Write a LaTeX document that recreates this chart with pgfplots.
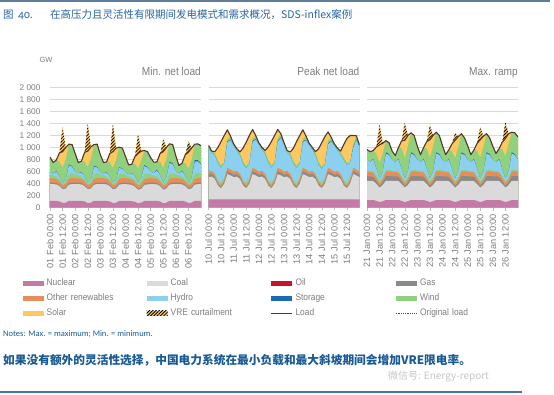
\documentclass[border=0pt]{standalone}
\usepackage{fontspec}
\setmainfont{Liberation Sans}
\newfontfamily\cjk{Noto Sans CJK SC}
\newfontfamily\carlito{Carlito}
\newfontfamily\carlitoOS{Carlito}[Numbers=OldStyle]
\newfontfamily\narrowf{Liberation Sans}[FakeStretch=0.88]
\usepackage{pgfplots}
\usepackage{pgfplotstable}
\pgfplotsset{compat=1.18}
\usetikzlibrary{patterns.meta}

\definecolor{cNuc}{RGB}{196,121,166}
\definecolor{cCoal}{RGB}{218,218,218}
\definecolor{cOil}{RGB}{200,20,40}
\definecolor{cGas}{RGB}{138,138,138}
\definecolor{cOth}{RGB}{232,140,90}
\definecolor{cHyd}{RGB}{140,208,240}
\definecolor{cSto}{RGB}{30,105,180}
\definecolor{cWind}{RGB}{145,208,125}
\definecolor{cSol}{RGB}{252,200,95}
\definecolor{cLoad}{RGB}{85,55,42}
\definecolor{cTick}{RGB}{125,125,125}
\definecolor{cGrid}{RGB}{217,217,217}
\definecolor{cAxis}{RGB}{190,190,190}
\definecolor{cTitle}{RGB}{40,100,160}
\definecolor{cBlue}{RGB}{25,90,150}
\definecolor{cRule}{RGB}{95,125,155}
\definecolor{cRule2}{RGB}{60,120,180}

% h N C G O W1 H St S L Cu  (GW, 3-hourly)
\pgfplotstableread{
h N C G O W1 H St S L Cu
0 110 280 25 75 60 40 0 0 840 0
3 110 280 25 70 50 30 0 0 750 0
6 110 275 25 65 40 80 10 0 790 0
9 100 255 20 60 40 40 0 150 910 0
12 75 230 18 50 30 15 0 260 930 410
15 80 235 20 55 40 30 0 200 1000 0
18 110 270 25 70 90 140 15 0 1055 0
21 110 280 25 75 80 110 10 0 1050 0
24 110 280 25 75 60 50 0 0 900 0
27 110 280 25 70 50 30 0 0 750 0
30 110 275 25 65 40 70 10 0 770 0
33 100 255 20 60 40 40 0 150 920 0
36 75 230 18 50 30 15 0 270 940 465
39 80 235 20 55 40 30 0 200 1010 0
42 110 270 25 70 80 120 15 0 1050 0
45 110 280 25 75 80 100 10 0 1055 0
48 110 280 25 75 60 40 0 0 880 0
51 110 280 25 70 50 30 0 0 750 0
54 110 275 25 65 40 70 10 0 760 0
57 100 255 20 60 40 40 0 150 900 0
60 75 230 18 50 30 15 0 270 930 465
63 80 235 20 55 40 30 0 200 990 0
66 110 270 25 70 80 110 10 0 1005 0
69 110 280 25 75 70 80 5 0 990 0
72 110 280 25 75 60 40 0 0 850 0
75 110 275 25 70 40 30 0 0 710 0
78 105 270 25 65 40 60 5 0 720 0
81 95 250 20 60 40 60 0 120 850 0
84 70 225 18 50 30 20 0 250 900 325
87 80 230 20 55 50 60 0 170 940 0
90 110 265 25 70 90 130 15 0 950 0
93 110 275 25 75 80 100 10 0 930 0
96 110 280 25 75 60 50 0 0 830 0
99 110 280 25 70 50 40 0 0 755 0
102 110 275 25 65 40 100 15 0 760 0
105 100 255 20 60 40 60 0 140 900 0
108 70 225 18 50 30 20 0 270 930 205
111 80 235 20 55 50 60 0 190 1000 0
114 110 270 25 70 90 180 20 0 1060 0
117 110 280 25 75 80 150 15 0 1050 0
120 110 280 25 75 60 60 0 0 860 0
123 110 280 25 70 50 30 0 0 700 0
126 110 275 25 65 40 90 10 0 740 0
129 100 255 20 60 40 50 0 140 880 0
132 75 230 18 50 30 15 0 270 920 180
135 80 235 20 55 50 50 0 200 990 0
138 110 270 25 70 90 200 25 0 1055 0
141 110 280 25 75 90 190 20 0 1060 0
144 110 280 25 75 80 150 10 0 1030 0
}\tabA

\pgfplotstableread{
h N C G O W1 H St S L Cu
0 135 370 40 50 0 410 0 0 1040 0
3 135 380 45 50 0 290 0 0 940 0
6 135 340 35 45 10 305 0 20 930 0
9 135 230 25 35 30 280 0 220 1000 0
12 135 185 20 30 40 250 0 400 1100 0
15 135 260 30 40 30 245 0 450 1200 0
18 135 420 50 55 0 430 15 150 1295 0
21 135 400 45 55 0 485 10 0 1190 0
24 135 370 40 50 0 430 0 0 1060 0
27 135 380 45 50 0 330 0 0 980 0
30 135 340 35 45 10 300 0 20 925 0
33 135 230 25 35 30 270 0 220 990 0
36 135 185 20 30 40 240 0 400 1090 0
39 135 260 30 40 30 245 0 450 1200 0
42 135 420 50 55 0 435 15 150 1300 0
45 135 400 45 55 0 495 10 0 1200 0
48 135 370 40 50 0 450 0 0 1080 0
51 135 380 45 50 0 350 0 0 1000 0
54 135 340 35 45 10 325 0 20 950 0
57 135 230 25 35 30 290 0 220 1010 0
60 135 185 20 30 40 250 0 400 1100 0
63 135 260 30 40 30 245 0 450 1200 0
66 135 420 50 55 0 435 15 150 1300 0
69 135 400 45 55 0 525 10 0 1230 0
72 135 370 40 50 0 450 0 0 1080 0
75 135 380 45 50 0 300 0 0 950 0
78 135 340 35 45 10 300 0 20 925 0
81 135 230 25 35 30 270 0 220 990 0
84 135 185 20 30 40 250 0 400 1100 0
87 135 260 30 40 30 245 0 450 1200 0
90 135 420 50 55 0 430 15 150 1295 0
93 135 400 45 55 0 485 10 0 1190 0
96 135 370 40 50 0 440 0 0 1070 0
99 135 380 45 50 0 350 0 0 1000 0
102 135 340 35 45 10 305 0 20 930 0
105 135 230 25 35 30 260 0 220 980 0
108 135 185 20 30 40 230 0 400 1080 0
111 135 260 30 40 30 225 0 450 1180 0
114 135 420 50 55 0 395 15 150 1260 0
117 135 400 45 55 0 465 10 0 1170 0
120 135 370 40 50 0 430 0 0 1060 0
123 135 380 45 50 0 340 0 0 990 0
126 135 340 35 45 10 315 0 20 940 0
129 135 230 25 35 30 330 0 220 1050 0
132 135 185 20 30 40 300 0 400 1150 0
135 135 260 30 40 30 245 0 450 1200 0
138 135 420 50 55 0 335 15 150 1200 0
141 135 400 45 55 0 490 10 0 1195 0
144 135 370 40 50 0 410 0 0 1040 0
}\tabB

\pgfplotstableread{
h N C G O W1 H St S L Cu
0 125 320 75 75 20 180 0 0 967 0
3 125 320 75 70 20 150 0 0 930 0
6 125 315 70 70 20 200 10 0 950 0
9 110 280 50 55 30 120 0 120 1010 0
12 90 240 30 40 40 40 0 300 1045 335
15 105 270 45 50 30 100 0 180 1070 0
18 125 320 80 75 20 280 20 0 1115 0
21 125 320 80 80 20 250 15 0 1080 0
24 125 320 75 75 20 180 0 0 940 0
27 125 320 75 70 20 150 0 0 866 0
30 125 315 70 70 20 200 10 0 1000 0
33 110 280 50 55 30 120 0 120 1110 0
36 90 240 30 40 40 40 0 300 1120 290
39 105 270 45 50 30 100 0 180 1200 0
42 125 320 80 75 20 280 20 0 1245 0
45 125 320 80 80 20 250 15 0 1200 0
48 125 320 75 75 20 180 0 0 1020 0
51 125 320 75 70 20 150 0 0 880 0
54 125 315 70 70 20 200 10 0 1000 0
57 110 280 50 55 30 120 0 120 1100 0
60 90 240 30 40 40 40 0 300 1130 250
63 105 270 45 50 30 100 0 180 1200 0
66 125 320 80 75 20 280 20 0 1255 0
69 125 320 80 80 20 250 15 0 1200 0
72 125 320 75 75 20 180 0 0 1030 0
75 125 320 75 70 20 150 0 0 880 0
78 125 315 70 70 20 200 10 0 960 0
81 110 280 50 55 30 120 0 120 1060 0
84 90 240 30 40 40 40 0 300 1120 126
87 105 270 45 50 30 100 0 180 1180 0
90 125 320 80 75 20 280 20 0 1230 0
93 125 320 80 80 20 250 15 0 1160 0
96 125 320 75 75 20 180 0 0 1030 0
99 125 320 75 70 20 150 0 0 880 0
102 125 315 70 70 20 200 10 0 960 0
105 110 280 50 55 30 120 0 120 1070 0
108 90 240 30 40 40 40 0 300 1130 210
111 105 270 45 50 30 100 0 180 1190 0
114 125 320 80 75 20 280 20 0 1230 0
117 125 320 80 80 20 250 15 0 1160 0
120 125 320 75 75 20 180 0 0 1020 0
123 125 320 75 70 20 150 0 0 900 0
126 125 315 70 70 20 200 10 0 980 0
129 110 280 50 55 30 120 0 120 1090 0
132 90 240 30 40 40 40 0 300 1150 275
135 105 270 45 50 30 100 0 180 1230 0
138 125 320 80 75 20 280 20 0 1255 0
141 125 320 80 80 20 250 15 0 1245 0
144 125 320 75 75 20 180 0 0 1175 0
}\tabC

\newcommand\drawpanel[1]{%
\addplot[fill=cSol, draw=none, forget plot] table[x=h, y expr=\thisrow{L}+\thisrow{Cu}] {#1} \closedcycle;
\addplot[pattern={Lines[angle=45,distance=2.3pt,line width=0.8pt]}, pattern color=black, draw=none, forget plot] table[x=h, y expr=\thisrow{L}+\thisrow{Cu}] {#1} \closedcycle;
\addplot[fill=cSol, draw=none, forget plot] table[x=h, y=L] {#1} \closedcycle;
\addplot[fill=cWind, draw=none, forget plot] table[x=h, y expr=\thisrow{L}-\thisrow{S}] {#1} \closedcycle;
\addplot[fill=cSto, draw=none, forget plot] table[x=h, y expr=\thisrow{N}+\thisrow{C}+\thisrow{G}+\thisrow{O}+\thisrow{W1}+\thisrow{H}+\thisrow{St}] {#1} \closedcycle;
\addplot[fill=cHyd, draw=none, forget plot] table[x=h, y expr=\thisrow{N}+\thisrow{C}+\thisrow{G}+\thisrow{O}+\thisrow{W1}+\thisrow{H}] {#1} \closedcycle;
\addplot[fill=cWind, draw=none, forget plot] table[x=h, y expr=\thisrow{N}+\thisrow{C}+\thisrow{G}+\thisrow{O}+\thisrow{W1}] {#1} \closedcycle;
\addplot[fill=cOth, draw=none, forget plot] table[x=h, y expr=\thisrow{N}+\thisrow{C}+\thisrow{G}+\thisrow{O}] {#1} \closedcycle;
\addplot[fill=cGas, draw=none, forget plot] table[x=h, y expr=\thisrow{N}+\thisrow{C}+\thisrow{G}] {#1} \closedcycle;
\addplot[fill=cCoal, draw=none, forget plot] table[x=h, y expr=\thisrow{N}+\thisrow{C}] {#1} \closedcycle;
\addplot[fill=cNuc, draw=none, forget plot] table[x=h, y=N] {#1} \closedcycle;
\addplot[draw=cLoad, line width=1.1pt, line join=round, forget plot] table[x=h, y=L] {#1};
}

\pgfplotsset{
 panel/.style={
  scale only axis, width=151pt, height=120pt, anchor=south west,
  xmin=0, xmax=144, ymin=0, ymax=2000,
  axis x line*=bottom, axis y line*=left, axis line style={-},
  y axis line style={draw=none},
  x axis line style={draw=cAxis, line width=0.6pt},
  ymajorgrids, grid style={draw=cGrid, line width=0.7pt},
  ytick={0,200,...,2000},
  xtick={0,12,...,132},
  tick align=outside, major tick length=3pt,
  xtick style={draw=cAxis, line width=0.5pt},
  ytick style={draw=none},
  xticklabel style={rotate=90, anchor=east, font=\fontsize{9.2}{10}\selectfont, text=cTick},
  yticklabel style={font=\fontsize{8.3}{10}\selectfont, text=cTick, xshift=-3pt},
  title style={at={(1,1)}, anchor=base east, yshift=6pt, inner sep=0pt, font=\narrowf\fontsize{11.5}{13}\selectfont, text=cTick},
 },
 sw/.style={legend image code/.code={\fill[##1, draw=none] (0pt,-2.4pt) rectangle (21pt,2.4pt);}},
 swp/.style={legend image code/.code={\fill[cSol, draw=none] (0pt,-2.4pt) rectangle (21pt,2.4pt);\fill[##1, draw=none] (0pt,-2.4pt) rectangle (21pt,2.4pt);}},
 ln/.style={legend image code/.code={\draw[##1] (0pt,0pt) -- (21pt,0pt);}},
}

\begin{document}
\begin{tikzpicture}
\useasboundingbox (0,0) rectangle (554pt,-395pt);

\begin{axis}[panel, at={(50pt,-207.5pt)}, title={Min. net load},
  yticklabels={0,200,400,600,800,1 000,1 200,1 400,1 600,1 800,2 000},
  xticklabels={01 Feb 00:00,01 Feb 12:00,02 Feb 00:00,02 Feb 12:00,03 Feb 00:00,03 Feb 12:00,04 Feb 00:00,04 Feb 12:00,05 Feb 00:00,05 Feb 12:00,06 Feb 00:00,06 Feb 12:00},
  legend columns=4, legend cell align=left,
  legend style={at={(-0.1808,-0.569)}, anchor=north west, draw=none, fill=none,
    inner sep=0pt, outer sep=0pt, row sep=0pt, column sep=0pt,
    font=\narrowf\fontsize{9.5}{11}\selectfont, text=cTick,
    nodes={text width=97pt, minimum height=15pt, inner xsep=3pt, inner ysep=0pt, align=left}},
]
\drawpanel{\tabA}
\addlegendimage{sw, fill=cNuc}\addlegendentry{Nuclear}
\addlegendimage{sw, fill=cCoal}\addlegendentry{Coal}
\addlegendimage{sw, fill=cOil}\addlegendentry{Oil}
\addlegendimage{sw, fill=cGas}\addlegendentry{Gas}
\addlegendimage{sw, fill=cOth}\addlegendentry{Other renewables}
\addlegendimage{sw, fill=cHyd}\addlegendentry{Hydro}
\addlegendimage{sw, fill=cSto}\addlegendentry{Storage}
\addlegendimage{sw, fill=cWind}\addlegendentry{Wind}
\addlegendimage{sw, fill=cSol}\addlegendentry{Solar}
\addlegendimage{swp, pattern={Lines[angle=45,distance=2.3pt,line width=0.8pt]}, pattern color=black}\addlegendentry{VRE curtailment}
\addlegendimage{ln, draw=cLoad, line width=0.9pt}\addlegendentry{Load}
\addlegendimage{ln, draw=cOil, line width=0.6pt, dash pattern=on 1pt off 0.8pt}\addlegendentry{Original load}
\end{axis}

\begin{axis}[panel, at={(208.5pt,-207.5pt)}, title={Peak net load}, yticklabels={},
  xticklabels={10 Jul 00:00,10 Jul 12:00,11 Jul 00:00,11 Jul 12:00,12 Jul 00:00,12 Jul 12:00,13 Jul 00:00,13 Jul 12:00,14 Jul 00:00,14 Jul 12:00,15 Jul 00:00,15 Jul 12:00}]
\drawpanel{\tabB}
\end{axis}

\begin{axis}[panel, at={(367pt,-207.5pt)}, title={Max. ramp}, yticklabels={},
  xticklabels={21 Jan 00:00,21 Jan 12:00,22 Jan 00:00,22 Jan 12:00,23 Jan 00:00,23 Jan 12:00,24 Jan 00:00,24 Jan 12:00,25 Jan 00:00,25 Jan 12:00,26 Jan 00:00,26 Jan 12:00}]
\drawpanel{\tabC}
\end{axis}

% header, notes and footer
\draw[cRule, line width=2pt] (0pt,-1.5pt) -- (550pt,-1.5pt);
\node[anchor=base west, inner sep=0pt, text=cTitle, font=\cjk\fontsize{10.5}{12}\selectfont] at (3pt,-18.5pt) {图\hspace{4.5pt}{\carlitoOS\fontsize{11.5}{13}\selectfont 40.}};
\node[anchor=base west, inner sep=0pt, text=cTitle, font=\cjk\fontsize{10.5}{12}\selectfont] at (50pt,-18.5pt) {在高压力且灵活性有限期间发电模式和需求概况，SDS-inflex案例};
\node[anchor=center, inner sep=0pt, text=cTick, font=\fontsize{7.5}{9}\selectfont] at (46pt,-59.5pt) {GW};
\node[anchor=west, inner sep=0pt, text=cBlue, font=\carlito\fontsize{8.5}{10}\selectfont] at (3pt,-334.5pt) {Notes: Max. = maximum; Min. = minimum.};
\node[anchor=west, inner sep=0pt, text=cBlue, font=\cjk\bfseries\fontsize{11.7}{14}\selectfont] at (3pt,-360pt) {如果没有额外的灵活性选择，中国电力系统在最小负载和最大斜坡期间会增加VRE限电率。};
\node[anchor=west, inner sep=0pt, text=gray!50, font=\cjk\fontsize{10}{12}\selectfont, opacity=0.9] at (388pt,-377pt) {微信号: Energy-report};
\draw[cRule2, line width=1.5pt] (0pt,-392pt) -- (522pt,-392pt);
\end{tikzpicture}
\end{document}
